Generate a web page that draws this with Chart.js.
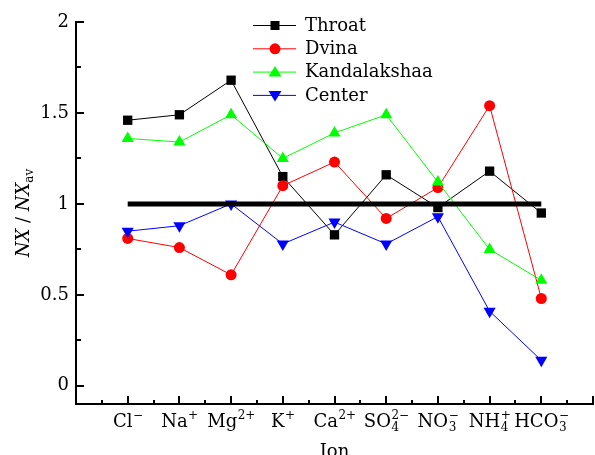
<!DOCTYPE html>
<html>
<head>
<meta charset="utf-8">
<script src="https://cdn.jsdelivr.net/npm/chart.js@4.4.1/dist/chart.umd.min.js"></script>
<style>
  html, body { margin: 0; padding: 0; background: #fff; }
  #wrap { width: 595px; height: 455px; }
</style>
</head>
<body>
<div id="wrap"><canvas id="ionChart" width="595" height="455"></canvas></div>
<script>
// -------- Data --------
const ionBase = ["Cl", "Na", "Mg", "K", "Ca", "SO", "NO", "NH", "HCO"];
const ionSup  = ["\u2212", "+", "2+", "+", "2+", "2\u2212", "\u2212", "+", "\u2212"];
const ionSub  = ["", "", "", "", "", "4", "3", "4", "3"];

const seriesNames  = ["Throat", "Dvina", "Kandalakshaa", "Center"];
const throat       = [1.46, 1.49, 1.68, 1.15, 0.83, 1.16, 0.98, 1.18, 0.95];
const dvina        = [0.81, 0.76, 0.61, 1.10, 1.23, 0.92, 1.09, 1.54, 0.48];
const kandalakshaa = [1.36, 1.34, 1.49, 1.25, 1.39, 1.49, 1.12, 0.75, 0.58];
const center       = [0.85, 0.88, 1.00, 0.78, 0.90, 0.78, 0.93, 0.41, 0.14];
const avgLine      = [1, 1];   // from first to last ion

const yTicks = [0, 0.5, 1, 1.5, 2];

// -------- Helpers --------
const SERIF = '"DejaVu Serif", serif';
const FS = 18, FS_SMALL = 12;
const toPoints = arr => arr.map((v, i) => ({ x: i, y: v }));

function series(label, data, color, style, radius, rotation, order) {
    return {
        label, data: toPoints(data), order,
        borderColor: color, backgroundColor: color,
        borderWidth: 1, tension: 0,
        pointStyle: style, pointRadius: radius, pointRotation: rotation,
        pointBorderWidth: 0, pointBackgroundColor: color
    };
}

// little markers for the legend
function marker(ctx, style, x, y, color) {
    ctx.fillStyle = color;
    ctx.beginPath();
    if (style === "rect") {
        ctx.rect(x - 4.5, y - 4.5, 9, 9);
    } else if (style === "circle") {
        ctx.arc(x, y, 5.5, 0, Math.PI * 2);
    } else if (style === "up") {
        ctx.moveTo(x, y - 6); ctx.lineTo(x + 6.5, y + 4.5); ctx.lineTo(x - 6.5, y + 4.5);
    } else {
        ctx.moveTo(x, y + 6); ctx.lineTo(x + 6.5, y - 4.5); ctx.lineTo(x - 6.5, y - 4.5);
    }
    ctx.closePath();
    ctx.fill();
}

// -------- Decorations: inward ticks, ion labels, titles, legend --------
const decor = {
    id: "decor",
    afterDraw(chart) {
        const { ctx, chartArea: a, scales: { x, y } } = chart;
        ctx.save();
        ctx.strokeStyle = "#000";
        ctx.lineWidth = 2;

        // y ticks, pointing into the plot
        yTicks.forEach((v, i) => {
            const py = Math.round(y.getPixelForValue(v));
            ctx.beginPath(); ctx.moveTo(a.left, py); ctx.lineTo(a.left + 8, py); ctx.stroke();
            if (i < yTicks.length - 1) {
                const pm = Math.round(y.getPixelForValue(v + 0.25));
                ctx.beginPath(); ctx.moveTo(a.left, pm); ctx.lineTo(a.left + 5, pm); ctx.stroke();
            }
        });

        // x ticks: major at every ion slot, minor between
        for (let v = x.min + 0.5; v <= x.max; v += 0.5) {
            const px = Math.round(x.getPixelForValue(v));
            const len = Number.isInteger(v) ? 8 : 4;
            ctx.beginPath(); ctx.moveTo(px, a.bottom); ctx.lineTo(px, a.bottom - len); ctx.stroke();
        }

        // ion labels with stacked super/subscripts
        ctx.fillStyle = "#000";
        ctx.textBaseline = "alphabetic";
        ctx.textAlign = "left";
        const base = 427;
        ionBase.forEach((b, i) => {
            ctx.font = FS + "px " + SERIF;
            const wb = ctx.measureText(b).width;
            ctx.font = FS_SMALL + "px " + SERIF;
            const ws = Math.max(ctx.measureText(ionSup[i]).width, ctx.measureText(ionSub[i]).width);
            const x0 = x.getPixelForValue(i) - (wb + ws) / 2;
            ctx.font = FS + "px " + SERIF;
            ctx.fillText(b, x0, base);
            ctx.font = FS_SMALL + "px " + SERIF;
            if (ionSup[i]) ctx.fillText(ionSup[i], x0 + wb + 0.5, base - 8);
            if (ionSub[i]) ctx.fillText(ionSub[i], x0 + wb + 0.5, base + 4);
        });

        // x title
        ctx.font = FS + "px " + SERIF;
        ctx.textAlign = "center";
        ctx.fillText("Ion", (a.left + a.right) / 2, 457);

        // y title NX / NX_av, rotated
        ctx.save();
        ctx.translate(29, 213);
        ctx.rotate(-Math.PI / 2);
        ctx.textAlign = "left";
        const parts = [
            ["italic " + FS + "px " + SERIF, "NX", 0],
            [FS + "px " + SERIF, " / ", 0],
            ["italic " + FS + "px " + SERIF, "NX", 0],
            [FS_SMALL + "px " + SERIF, "av", 4]
        ];
        let total = 0;
        parts.forEach(p => { ctx.font = p[0]; total += ctx.measureText(p[1]).width; });
        let cx = -total / 2;
        parts.forEach(p => {
            ctx.font = p[0];
            ctx.fillText(p[1], cx, p[2]);
            cx += ctx.measureText(p[1]).width;
        });
        ctx.restore();

        // legend
        const styles = ["rect", "circle", "up", "down"];
        ctx.font = FS + "px " + SERIF;
        ctx.textAlign = "left";
        ctx.textBaseline = "middle";
        seriesNames.forEach((name, i) => {
            const ds = chart.data.datasets.find(d => d.label === name);
            const ly = 25 + i * 23.3;
            ctx.strokeStyle = ds.borderColor;
            ctx.lineWidth = 1;
            ctx.beginPath(); ctx.moveTo(253, ly + 0.5); ctx.lineTo(296, ly + 0.5); ctx.stroke();
            marker(ctx, styles[i], 275, ly + 0.5, ds.borderColor);
            ctx.fillStyle = "#000";
            ctx.fillText(name, 305, ly + 1);
        });
        ctx.restore();
    }
};

// -------- Chart --------
new Chart(document.getElementById("ionChart"), {
    type: "line",
    data: {
        datasets: [
            {
                label: "average", order: 0,
                data: [{ x: 0, y: avgLine[0] }, { x: ionBase.length - 1, y: avgLine[1] }],
                borderColor: "#000", borderWidth: 5, pointRadius: 0, borderCapStyle: "butt"
            },
            series(seriesNames[3], center, "#0000ff", "triangle", 7, 180, 1),
            series(seriesNames[2], kandalakshaa, "#00ff00", "triangle", 7, 0, 2),
            series(seriesNames[1], dvina, "#ff0000", "circle", 5.5, 0, 3),
            series(seriesNames[0], throat, "#000000", "rect", 6.6, 0, 4)
        ]
    },
    options: {
        responsive: false,
        animation: false,
        devicePixelRatio: 1,
        events: [],
        layout: { autoPadding: false, padding: { top: 22, right: 2, left: 0, bottom: 0 } },
        plugins: { legend: { display: false }, tooltip: { enabled: false } },
        scales: {
            x: {
                type: "linear", min: -1, max: 9,
                grid: { display: false },
                border: { display: true, color: "#000", width: 2 },
                ticks: { display: false },
                afterFit: s => { s.height = 51; }
            },
            y: {
                min: -0.1, max: 2,
                grid: { display: false, drawTicks: false },
                border: { display: true, color: "#000", width: 2 },
                afterBuildTicks: s => { s.ticks = yTicks.map(v => ({ value: v })); },
                ticks: {
                    color: "#000", padding: 7,
                    font: { family: SERIF, size: FS },
                    callback: v => String(v)
                },
                afterFit: s => { s.width = 76; }
            }
        }
    },
    plugins: [decor]
});
</script>
</body>
</html>
